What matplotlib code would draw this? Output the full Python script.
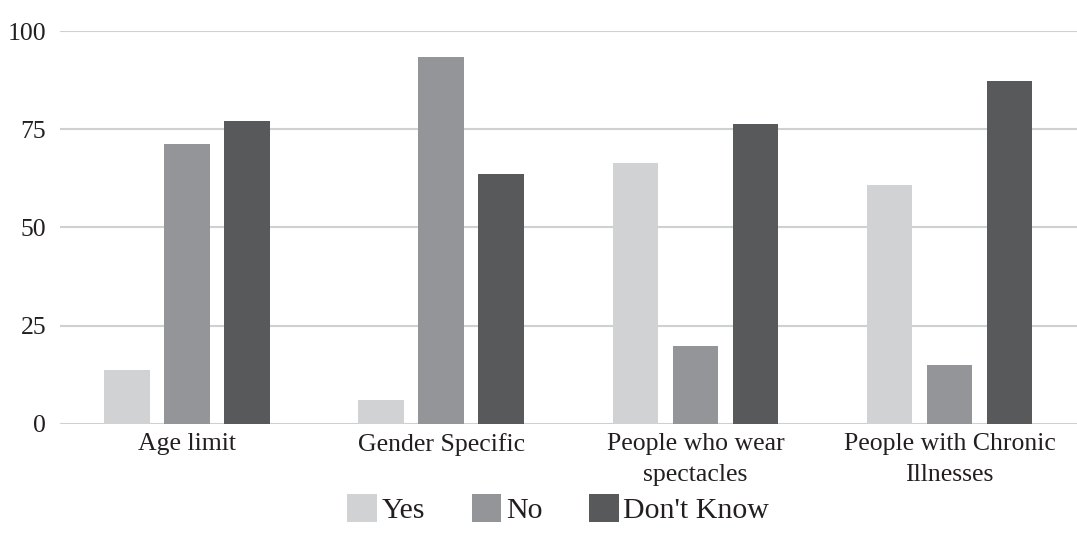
import matplotlib.pyplot as plt
import numpy as np

plt.rcParams['font.family'] = ['Liberation Serif', 'DejaVu Serif']

categories = ['Age limit', 'Gender Specific', 'People who wear\nspectacles',
              'People with Chronic\nIllnesses']
yes = [13.7, 6.0, 66.3, 60.7]
no = [71.2, 93.4, 19.8, 14.9]
dont_know = [77.0, 63.5, 76.3, 87.2]

series = [('Yes', yes, '#d1d2d4'),
          ('No', no, '#939598'),
          ("Don't Know", dont_know, '#58595b')]

x = np.arange(len(categories))
width = 0.18
step = 0.236

fig = plt.figure(figsize=(10.77, 5.35), dpi=100)
ax = fig.add_axes([0.0557, 0.208, 0.944, 0.734])

for i, (name, vals, color) in enumerate(series):
    ax.bar(x + (i - 1) * step, vals, width, label=name, color=color, zorder=3)

ax.set_xlim(-0.5, len(categories) - 0.5)
ax.set_ylim(0, 100)
ax.set_yticks([0, 25, 50, 75, 100])
ax.yaxis.grid(True, color='#cfd0d1', linewidth=1.5, zorder=0)
for s in ax.spines.values():
    s.set_visible(False)
ax.tick_params(axis='both', length=0, labelsize=18.5, colors='#231f20')
ax.tick_params(axis='y', pad=10)
ax.tick_params(axis='x', pad=7)
ax.set_xticks(x)
ax.set_xticklabels(categories, linespacing=1.5)

ax.legend(loc='center', bbox_to_anchor=(0.49, -0.218), ncol=3,
          frameon=False, fontsize=21.5, handlelength=1.0, handleheight=1.05,
          handletextpad=0.15, columnspacing=1.55, labelcolor='#231f20')

fig.savefig('out.png', dpi=100)
